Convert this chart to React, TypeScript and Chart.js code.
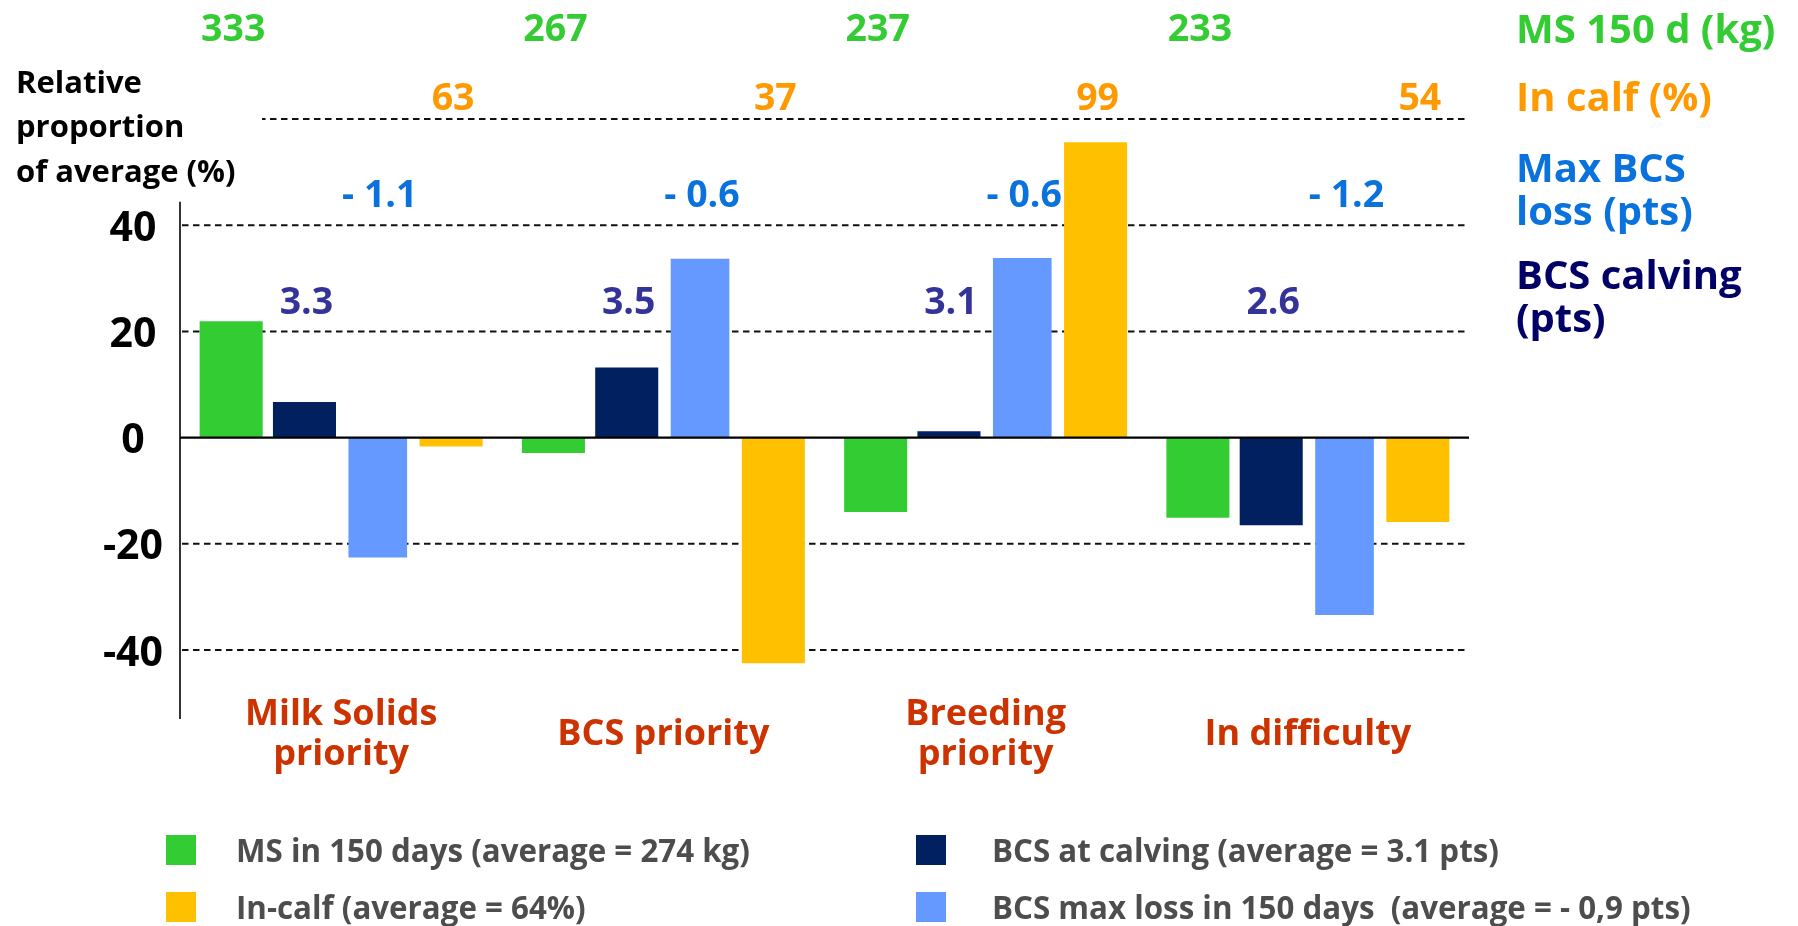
import React, { useEffect, useRef } from 'react';
import { Chart, registerables } from 'chart.js';

Chart.register(...registerables);

// ---------- data ----------
const categories: string[][] = [['Milk Solids', 'priority'], ['BCS priority'], ['Breeding', 'priority'], ['In difficulty']];

const seriesLabels = [
  'MS in 150 days (average = 274 kg)',
  'BCS at calving (average = 3.1 pts)',
  'BCS max loss in 150 days  (average = - 0,9 pts)',
  'In-calf (average = 64%)',
];
const msRelative = [21.9, -2.9, -14.0, -15.1];
const calvingRelative = [6.7, 13.2, 1.2, -16.5];
const lossRelative = [-22.6, 33.7, 33.8, -33.4];
const inCalfRelative = [-1.7, -42.5, 55.6, -15.9];

const msKg = [333, 267, 237, 233];
const inCalfPct = [63, 37, 99, 54];
const maxLossPts = [-1.1, -0.6, -0.6, -1.2];
const calvingPts = [3.3, 3.5, 3.1, 2.6];

const yTicks = [40, 20, 0, -20, -40];
const gridValues = [60, 40, 20, -20, -40];
const titleLines = ['Relative', 'proportion', 'of average (%)'];

// ---------- styles ----------
const FAMILY = '"Open Sans", "Liberation Sans", sans-serif';
const font = (size: number) => `bold ${size}px ${FAMILY}`;
const COLORS = {
  green: '#33CC33',
  navy: '#002060',
  lightBlue: '#6699FF',
  yellow: '#FFC000',
  orangeText: '#FF9900',
  blueText: '#0A72DC',
  navyTitle: '#000066',
  navyValue: '#333399',
  category: '#CC3300',
  legendText: '#4D4D4D',
};
const Y_MIN = -53;
const Y_MAX = 60;
const AXIS_TOP_VALUE = 44.4;

const fmtLoss = (v: number) => '- ' + Math.abs(v).toFixed(1);
const fmtOne = (v: number) => v.toFixed(1);

// value rows above the chart: dataset index whose bar x they follow
const valueRows = [
  { ds: 0, values: msKg.map(String), color: COLORS.green, baseline: 41 },
  { ds: 3, values: inCalfPct.map(String), color: COLORS.orangeText, baseline: 110 },
  { ds: 2, values: maxLossPts.map(fmtLoss), color: COLORS.blueText, baseline: 207 },
  { ds: 1, values: calvingPts.map(fmtOne), color: COLORS.navyValue, baseline: 314 },
];

const rowTitles = [
  { lines: ['MS 150 d (kg)'], color: COLORS.green, baseline: 43 },
  { lines: ['In calf (%)'], color: COLORS.orangeText, baseline: 111 },
  { lines: ['Max BCS', 'loss (pts)'], color: COLORS.blueText, baseline: 182 },
  { lines: ['BCS calving', '(pts)'], color: COLORS.navyTitle, baseline: 289 },
];

const legendOrder = [0, 1, 3, 2];

function drawText(ctx: CanvasRenderingContext2D, s: string, x: number, y: number, f: string, color: string, align: CanvasTextAlign = 'left') {
  ctx.font = f;
  ctx.fillStyle = color;
  ctx.textAlign = align;
  ctx.textBaseline = 'alphabetic';
  ctx.fillText(s, x, y);
}

const overlayPlugin = {
  id: 'overlay',
  beforeDatasetsDraw(chart: any) {
    const { ctx, chartArea: a } = chart;
    const y = chart.scales.y;
    ctx.save();
    ctx.strokeStyle = '#111';
    ctx.lineWidth = 2;
    ctx.setLineDash([6.5, 4.5]);
    gridValues.forEach((v) => {
      const py = y.getPixelForValue(v);
      ctx.beginPath();
      ctx.moveTo(a.left + 2, py);
      ctx.lineTo(a.right - 4, py);
      ctx.stroke();
    });
    ctx.setLineDash([]);
    // white text box of the axis title
    ctx.fillStyle = '#ffffff';
    ctx.fillRect(0, 55, 262, 142);
    ctx.restore();
  },
  afterDatasetsDraw(chart: any) {
    const { ctx, chartArea: a } = chart;
    const y = chart.scales.y;
    ctx.save();
    ctx.strokeStyle = '#000';
    ctx.lineWidth = 2.2;
    const zy = y.getPixelForValue(0);
    ctx.beginPath();
    ctx.moveTo(a.left, zy);
    ctx.lineTo(a.right, zy);
    ctx.stroke();
    ctx.lineWidth = 1.6;
    ctx.beginPath();
    ctx.moveTo(a.left, y.getPixelForValue(AXIS_TOP_VALUE));
    ctx.lineTo(a.left, a.bottom);
    ctx.stroke();
    ctx.restore();
  },
  afterDraw(chart: any) {
    const { ctx } = chart;
    const x = chart.scales.x;
    ctx.save();

    // axis title
    titleLines.forEach((s, i) => drawText(ctx, s, 16, 93 + i * 44.3, font(31), '#000'));

    // values above the chart
    valueRows.forEach((row) => {
      const meta = chart.getDatasetMeta(row.ds);
      row.values.forEach((s, i) => {
        drawText(ctx, s, meta.data[i].x + 2, row.baseline, font(37.5), row.color, 'center');
      });
    });

    // row titles on the right
    rowTitles.forEach((t) => {
      t.lines.forEach((s, i) => drawText(ctx, s, 1516, t.baseline + i * 43, font(40), t.color));
    });

    // category labels
    categories.forEach((lines, i) => {
      const cx = x.getPixelForValue(i);
      const first = 745 - (lines.length - 1) * 20;
      lines.forEach((s, j) => drawText(ctx, s, cx, first + j * 40, font(36), COLORS.category, 'center'));
    });

    // legend (2 x 2)
    legendOrder.forEach((dsIndex, k) => {
      const ds = chart.data.datasets[dsIndex];
      const col = k % 2;
      const row = Math.floor(k / 2);
      const sx = col === 0 ? 166 : 916;
      const tx = col === 0 ? 236 : 992;
      const sy = row === 0 ? 835 : 892;
      const base = row === 0 ? 862 : 919;
      ctx.fillStyle = ds.backgroundColor;
      ctx.fillRect(sx, sy, 30, 30);
      drawText(ctx, ds.label, tx, base, font(31.3), COLORS.legendText);
    });

    ctx.restore();
  },
};

export default function App() {
  const canvasRef = useRef<HTMLCanvasElement | null>(null);

  useEffect(() => {
    const canvas = canvasRef.current;
    if (!canvas) return;
    const chart = new Chart(canvas, {
      type: 'bar',
      data: {
        labels: categories.map((c) => c.join(' ')),
        datasets: [
          { label: seriesLabels[0], data: msRelative, backgroundColor: COLORS.green, barPercentage: 0.86, categoryPercentage: 0.91 },
          { label: seriesLabels[1], data: calvingRelative, backgroundColor: COLORS.navy, barPercentage: 0.86, categoryPercentage: 0.91 },
          { label: seriesLabels[2], data: lossRelative, backgroundColor: COLORS.lightBlue, barPercentage: 0.8, categoryPercentage: 0.91 },
          { label: seriesLabels[3], data: inCalfRelative, backgroundColor: COLORS.yellow, barPercentage: 0.86, categoryPercentage: 0.91 },
        ],
      },
      options: {
        responsive: false,
        animation: false,
        events: [],
        layout: { padding: { top: 119, right: 329, bottom: 207, left: 0 } },
        plugins: {
          legend: { display: false },
          tooltip: { enabled: false },
        },
        scales: {
          x: {
            display: false,
            grid: { display: false },
          },
          y: {
            min: Y_MIN,
            max: Y_MAX,
            grid: { display: false, drawTicks: false },
            border: { display: false },
            afterBuildTicks: (scale: any) => {
              scale.ticks = yTicks.map((v) => ({ value: v }));
            },
            afterFit: (scale: any) => {
              scale.width = 180;
            },
            ticks: {
              color: '#000',
              font: { family: FAMILY, size: 41, weight: 'bold' },
              crossAlign: 'center',
              padding: 17,
              labelOffset: 4,
            },
          },
        },
      },
      plugins: [overlayPlugin],
    } as any);
    return () => chart.destroy();
  }, []);

  return (
    <div style={{ position: 'absolute', left: 0, top: 0, width: 1798, height: 926, background: '#fff' }}>
      <canvas ref={canvasRef} width={1798} height={926} style={{ display: 'block', width: 1798, height: 926 }} />
    </div>
  );
}
